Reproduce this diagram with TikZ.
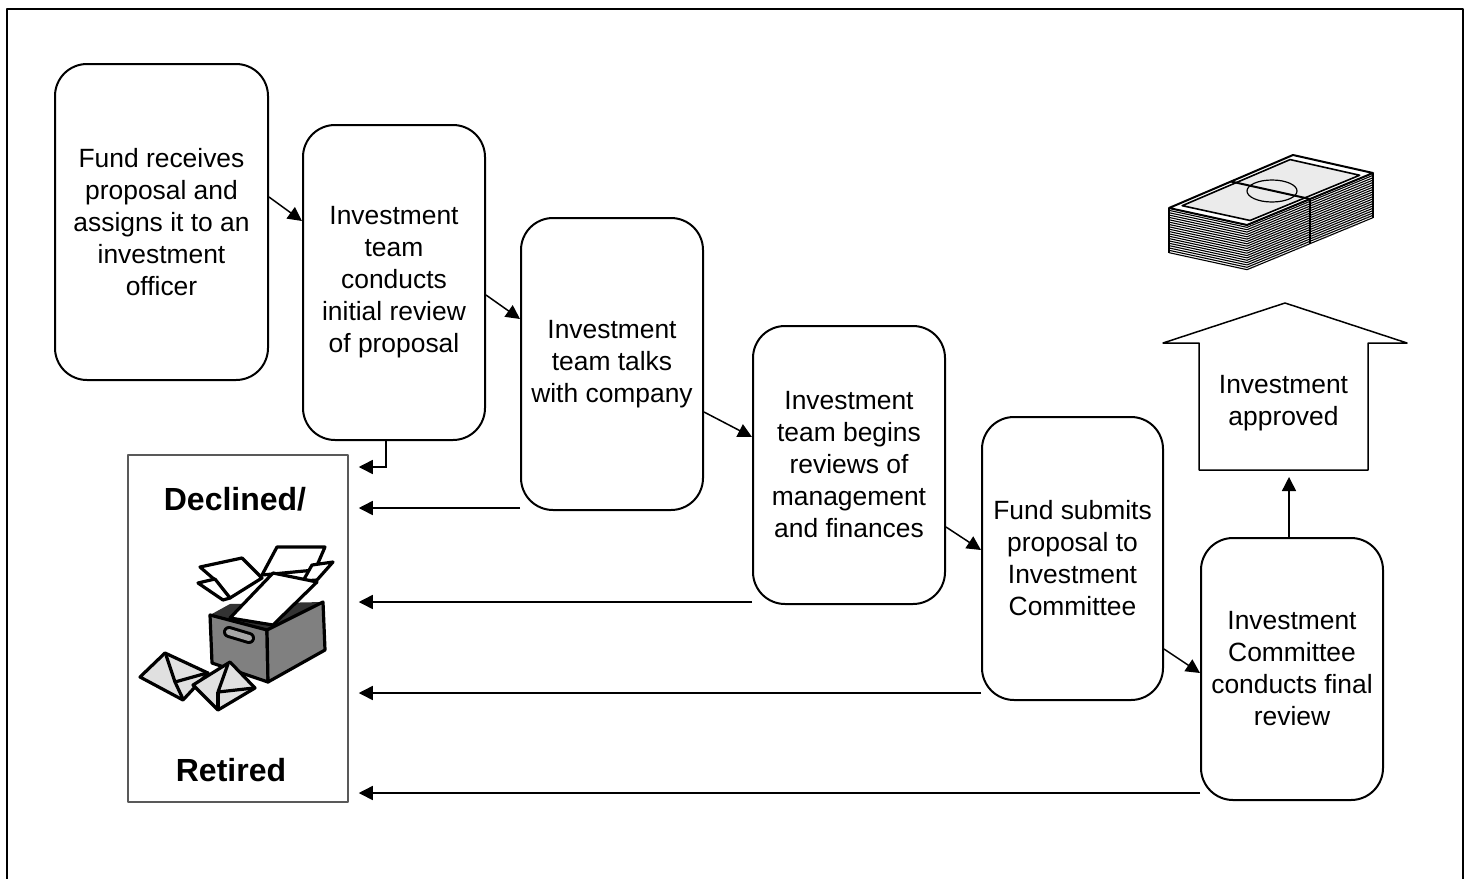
\documentclass[tikz,border=0pt]{standalone}
\usepackage{fontspec}
\setmainfont{Liberation Sans}
\usetikzlibrary{arrows.meta, calc, backgrounds}
\newcommand{\boxfont}{\fontsize{13.2}{16}\selectfont}
\newcommand{\binfont}{\fontsize{16}{19}\selectfont\bfseries}

\begin{document}
\begin{tikzpicture}[x=0.5pt, y=-0.5pt, line join=round,
    stepbox/.style={draw, line width=1pt, rounded corners=16pt, fill=white, align=center, inner sep=0pt, font=\boxfont},
    flow/.style={line width=0.75pt, -{Triangle[length=7pt, width=7pt]}},
    clip art/.style={line width=1.6pt, line join=round}]
    \useasboundingbox (0,0) rectangle (1471,878);
    %Frame
    \draw[line width=1pt] (7,890) -- (7,9) -- (1463,9) -- (1463,890);

    %Steps
    \node[stepbox, minimum width=106.5pt, minimum height=158pt] (receive) at (161.5,222) {Fund receives\\proposal and\\assigns it to an\\investment\\officer};
    \node[stepbox, minimum width=91pt, minimum height=157.5pt] (initial) at (394,282.5) {Investment\\team\\conducts\\initial review\\of proposal};
    \node[stepbox, minimum width=91pt, minimum height=146pt] (talks) at (612,364) {Investment\\team talks\\with company};
    \node[stepbox, minimum width=96pt, minimum height=139pt] (reviews) at (849,465) {Investment\\team begins\\reviews of\\management\\and finances};
    \node[stepbox, minimum width=90.5pt, minimum height=141.5pt] (submit) at (1072.5,558.5) {Fund submits\\proposal to\\Investment\\Committee};
    \node[stepbox, minimum width=91pt, minimum height=131pt] (final) at (1292,669) {Investment\\Committee\\conducts final\\review};

    %Declined / Retired
    \node[draw=black!65, line width=0.75pt, minimum width=110pt, minimum height=173.5pt, inner sep=0pt] (declined) at (238,628.5) {};
    \node[font=\binfont] (declinedtext) at (235,499) {Declined/};
    \node[font=\binfont] (retired) at (231,770) {Retired};
    \coordinate (drop) at ([xshift=5pt]declined.east);

    %Approved
    \draw[line width=0.75pt, fill=white] (1199,470) -- (1199,343) -- (1163,343) -- (1285,303) -- (1407,343) -- (1368,343) -- (1368,470) -- cycle;
    \node[font=\boxfont, align=center] (approved) at (1283.5,403) {Investment\\approved};
    \coordinate (approvedbase) at (1289,477);

    %Flow between steps
    \draw[flow] (receive.east |- 0,197) -- (initial.west |- 0,221);
    \draw[flow] (initial.east |- 0,295) -- (talks.west |- 0,319);
    \draw[flow] (talks.east |- 0,412) -- (reviews.west |- 0,437);
    \draw[flow] (reviews.east |- 0,527) -- (submit.west |- 0,550);
    \draw[flow] (submit.east |- 0,649) -- (final.west |- 0,673);
    \draw[flow] (final.north -| approvedbase) -- (approvedbase);

    %Back to declined
    \begin{pgfonlayer}{background}
        \draw[flow] (initial.south -| 386,0) |- (drop |- 0,467);
        \draw[flow] (talks.west |- 0,508) -- (drop |- 0,508);
        \draw[flow] (reviews.west |- 0,602) -- (drop |- 0,602);
        \draw[flow] (submit.west |- 0,693) -- (drop |- 0,693);
        \draw[flow] (final.west |- 0,793) -- (drop |- 0,793);
    \end{pgfonlayer}

    %Money stack
    \coordinate (mL) at (1169,208);
    \coordinate (mT) at (1293,155);
    \coordinate (mR) at (1373,173);
    \coordinate (mB) at (1247,225);
    \coordinate (mC) at (1270.5,190.25);
    \fill[white] (mL) -- (mB) -- (mR) -- ($(mR)+(0,46)$) -- ($(mB)+(0,48)$) -- ($(mL)+(0,46)$) -- cycle;
    \foreach \i in {0,...,19}
        \draw[line width=0.55pt] ($(mL)+(0,2.35*\i)$) -- ($(mB)+(0,2.35*\i)$) -- ($(mR)+(0,2.35*\i)$);
    \draw[line width=0.7pt] (mL) -- ($(mL)+(0,45)$);
    \draw[line width=0.7pt] (mR) -- ($(mR)+(0,45)$);
    \draw[line width=1pt] ($(mB)!0.5!(mR)$) -- ($(mB)!0.5!(mR)+(0,45)$);
    \draw[line width=1pt, fill=white] (mL) -- (mT) -- (mR) -- (mB) -- cycle;
    \draw[line width=0.8pt, fill=black!8] ($(mC)!0.87!(mL)$) -- ($(mC)!0.87!(mT)$) -- ($(mC)!0.87!(mR)$) -- ($(mC)!0.87!(mB)$) -- cycle;
    \draw[line width=1pt] ($(mL)!0.5!(mT)$) -- ($(mB)!0.5!(mR)$);
    \draw[line width=0.6pt] (1272,191) ellipse [x radius=25, y radius=11];

    %Archive box
    \fill[black!80] (210,615) -- (230,604) -- (323,602) -- (267,630) -- cycle;
    \draw[clip art, fill=white] (200,567) -- (242,558) -- (262,578) -- (230,598) -- (215,580) -- cycle;
    \draw[clip art, fill=white] (198,583) -- (215,579) -- (230,598) -- (223,600) -- cycle;
    \draw[clip art, fill=white] (262,575) -- (277,547) -- (325,547) -- (315,570) -- cycle;
    \draw[clip art, fill=white] (312,565) -- (333,562) -- (317,580) -- (303,581) -- cycle;
    \draw[clip art, fill=white] (230,618) -- (273,573) -- (317,582) -- (273,625) -- cycle;
    \draw[clip art, fill=black!50] (210,615) -- (267,630) -- (268,682) -- (212,663) -- cycle;
    \draw[clip art, fill=black!50] (267,630) -- (323,602) -- (325,650) -- (268,682) -- cycle;
    \draw[line width=6pt, line cap=round] (229,632) -- (249,638);
    \draw[line width=3pt, line cap=round, black!35] (229,632) -- (249,638);

    %Envelopes
    \draw[clip art, fill=black!12] (140,677) -- (165,653) -- (208,673) -- (183,700) -- cycle;
    \draw[clip art] (166,655) -- (175,682) -- (207,673);
    \draw[clip art] (175,682) -- (183,699);
    \draw[clip art, fill=black!12] (193,685) -- (230,662) -- (255,688) -- (218,710) -- cycle;
    \draw[clip art] (228,664) -- (218,692) -- (254,688);
    \draw[clip art] (218,692) -- (218,709);
\end{tikzpicture}
\end{document}
